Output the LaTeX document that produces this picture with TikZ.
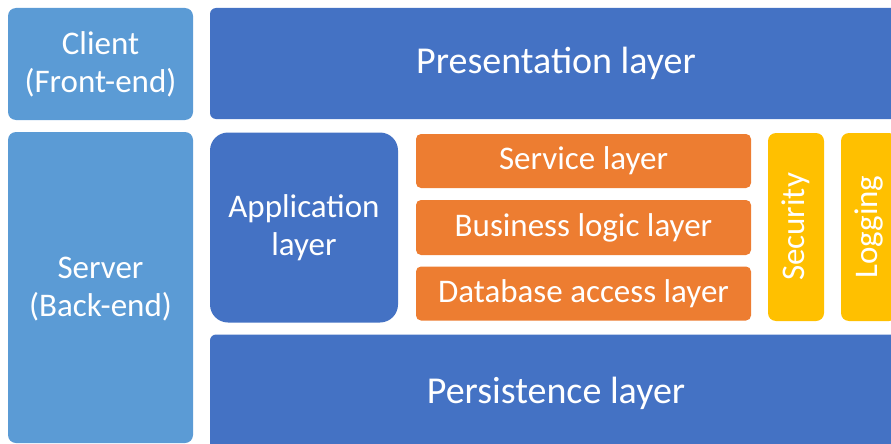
\documentclass[tikz,border=0pt]{standalone}
\usepackage{fontspec}
\setmainfont{Carlito}
\usepackage{xcolor}
\definecolor{tierblue}{HTML}{5B9BD5}
\definecolor{layerblue}{HTML}{4472C4}
\definecolor{sublayer}{HTML}{ED7D31}
\definecolor{crosscut}{HTML}{FFC000}
\begin{document}
\begin{tikzpicture}[x=1pt,y=-1pt,
  box/.style={rectangle,inner sep=0pt,text=white,align=center,font=\fontsize{33}{38}\selectfont},
  tier/.style={box,fill=tierblue,rounded corners=8pt},
  layer/.style={box,fill=layerblue,rounded corners=6pt,font=\fontsize{38}{42}\selectfont},
  sub/.style={box,fill=sublayer,rounded corners=5pt,minimum width=335pt},
  cross/.style={box,fill=crosscut,rounded corners=8pt,minimum width=56pt,minimum height=188pt}]
  \useasboundingbox (0,0) rectangle (891,444);
  \clip (0,0) rectangle (891,444);
  \node[tier,minimum width=185pt,minimum height=112pt] (client) at (100.5,64) {Client\\(Front-end)};
  \node[tier,minimum width=185pt,minimum height=311pt,text depth=1pt] (server) at (100.5,287.5) {Server\\(Back-end)};
  \node[layer,minimum width=692pt,minimum height=111pt] (pres) at (556,63.5) {Presentation layer};
  \node[layer,minimum width=692pt,minimum height=117pt] (persist) at (556,393) {Persistence layer};
  \node[box,fill=layerblue,rounded corners=18pt,minimum width=188pt,minimum height=190pt] (app) at (304,227.5) {Application\\layer};
  \node[sub,minimum height=54pt] (service) at (583.5,161) {Service layer};
  \node[sub,minimum height=55pt] (business) at (583.5,227.5) {Business logic layer};
  \node[sub,minimum height=54pt] (dbaccess) at (583.5,293.5) {Database access layer};
  \node[cross] (security) at (796,227) {};
  \node[rotate=90,text=white,font=\fontsize{33}{36}\selectfont] at (security) {Security};
  \node[cross] (logging) at (869,227) {};
  \node[rotate=90,text=white,font=\fontsize{33}{36}\selectfont] at (logging) {Logging};
\end{tikzpicture}
\end{document}
